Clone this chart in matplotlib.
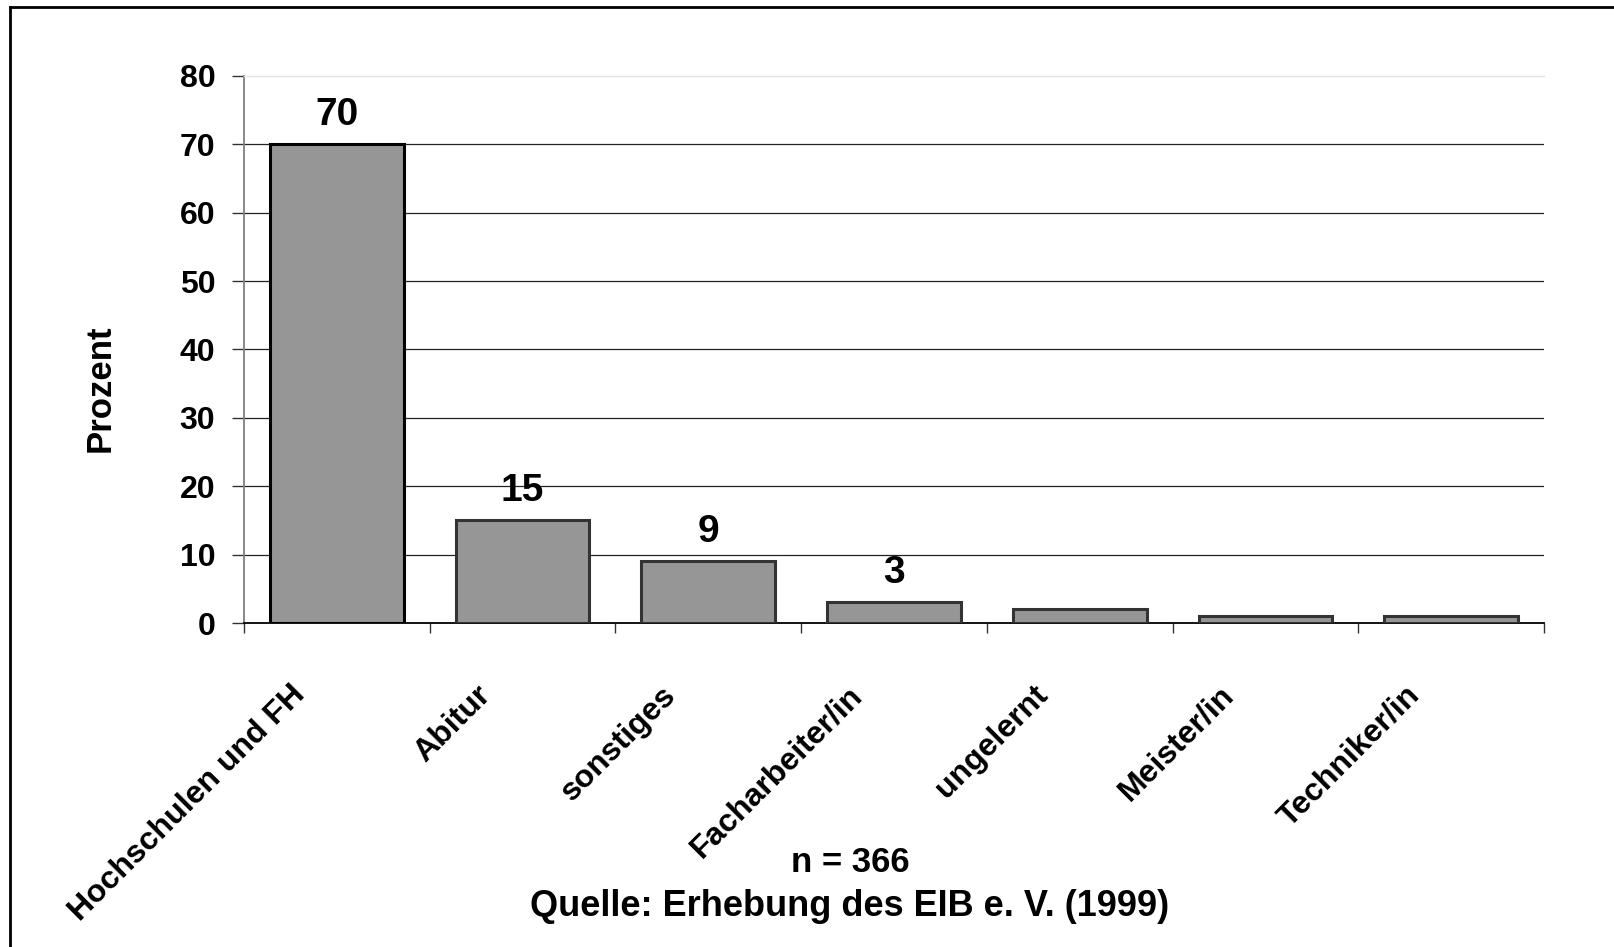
import numpy as np
import matplotlib
matplotlib.use("Agg")
import matplotlib.pyplot as plt
from matplotlib.lines import Line2D
from matplotlib.transforms import ScaledTranslation

plt.rcParams['font.family'] = ['Liberation Sans', 'DejaVu Sans']
plt.rcParams['font.weight'] = 'bold'

# data
categories = ['Hochschulen und FH', 'Abitur', 'sonstiges', 'Facharbeiter/in',
              'ungelernt', 'Meister/in', 'Techniker/in']
values = [70, 15, 9, 3, 2, 1, 1]
labelled = [True, True, True, True, False, False, False]
yticks = [0, 10, 20, 30, 40, 50, 60, 70, 80]

fig = plt.figure(figsize=(16.14, 9.47), dpi=100)
ax = fig.add_axes([244/1614, 1-623/947, 1300/1614, 547/947])

x = np.arange(len(categories))
edges = ['black'] + ['#333333'] * (len(categories) - 1)
ax.bar(x, values, width=0.72, color='#969696', edgecolor=edges, linewidth=2.2, zorder=3)

for xi, v, show in zip(x, values, labelled):
    if show:
        ax.annotate(str(v), (xi, v), xytext=(0, 14), textcoords='offset points',
                    ha='center', va='baseline', fontsize=28, fontweight='bold')

ax.set_xlim(-0.5, len(categories) - 0.5)
ax.set_ylim(0, 80)
ax.set_yticks(yticks)
ax.set_yticklabels([str(t) for t in yticks], fontsize=23, fontweight='bold')
ax.tick_params(axis='y', length=8.6, width=1, color='#333333', pad=12)

ax.set_xticks(x)
ax.set_xticklabels(categories, fontsize=23, fontweight='bold', rotation=45,
                   ha='right', va='top', rotation_mode='anchor')
ax.tick_params(axis='x', which='major', length=0, pad=41)
ax.set_xticks(np.arange(-0.5, len(categories), 1), minor=True)
ax.tick_params(axis='x', which='minor', length=7.5, width=1, color='#333333')
shift = ScaledTranslation(-47/100, 0, fig.dpi_scale_trans)
for lab in ax.get_xticklabels():
    lab.set_transform(lab.get_transform() + shift)

# gridlines
for t in yticks[1:-1]:
    ax.axhline(t, color='#222222', linewidth=0.9, zorder=1)

ax.spines['right'].set_visible(False)
ax.spines['top'].set_color('#e4e4e4')
ax.spines['top'].set_linewidth(1)
ax.spines['left'].set_color('#808080')
ax.spines['left'].set_linewidth(1.3)
ax.spines['bottom'].set_color('black')
ax.spines['bottom'].set_linewidth(1.3)

fig.text(100/1614, 1-388/947, 'Prozent', rotation=90, ha='center', va='center',
         fontsize=25, fontweight='bold')
fig.text(850/1614, 1-863/947, 'n = 366', ha='center', va='center',
         fontsize=25, fontweight='bold')
fig.text(850/1614, 1-906/947, 'Quelle: Erhebung des EIB e. V. (1999)', ha='center',
         va='center', fontsize=26, fontweight='bold')

# outer frame (only top and left visible in the reference)
fig.add_artist(Line2D([10/1614, 10/1614], [0, 1-7/947], transform=fig.transFigure,
                      color='black', linewidth=2))
fig.add_artist(Line2D([10/1614, 1], [1-7/947, 1-7/947], transform=fig.transFigure,
                      color='black', linewidth=2))

fig.savefig('out.png', dpi=100)
